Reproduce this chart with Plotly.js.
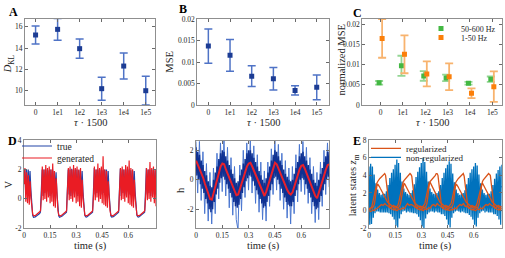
<!DOCTYPE html>
<html>
<head>
<meta charset="utf-8">
<script src="https://cdn.plot.ly/plotly-3.0.1.min.js"></script>
<style>html,body{margin:0;padding:0;background:#fff;}#chart{width:505px;height:258px;}</style>
</head>
<body>
<div id="chart"></div>
<script>
// ---------------- DATA ----------------
const tauLabels = ['0', '1e1', '1e2', '1e3', '1e4', '1e5'];

// Panel A: D_KL
const dklMean = [15.22, 15.75, 13.94, 10.19, 12.31, 10.0];
const dklErr  = [0.84, 1.02, 0.9, 1.08, 1.22, 1.35];

// Panel B: MSE
const mseMean = [0.0137, 0.01155, 0.0067, 0.0061, 0.0034, 0.0041];
const mseErr  = [0.004, 0.0037, 0.0024, 0.0026, 0.0011, 0.0029];

// Panel C: normalized MSE
const hiBandMean = [0.0055, 0.0097, 0.0072, 0.0067, 0.0054, 0.0064];   // 50-600 Hz
const hiBandErr  = [0.00045, 0.0025, 0.0012, 0.0008, 0.00033, 0.00066];
const loBandMean = [0.0165, 0.01256, 0.0077, 0.007, 0.0029, 0.00455];  // 1-50 Hz
const loBandErr  = [0.0048, 0.0047, 0.0031, 0.0033, 0.0012, 0.0038];

// Panel D: voltage, sampled every 0.005 s from t = 0
const vTrue = [
  1.2, 2.0, 0.4, 2.0, 0.3, 2.0, 0.5, 1.9, 0.6, -0.6, -1.1, -1.25, -1.25, -1.22, -1.18, -1.14, -1.1, -1.05, -1.0, -0.9,
  0.5, 2.0, 0.2, 2.0, 0.4, 2.0, 0.3, 2.0, 0.5, 1.95, 0.2, 2.0, 0.4, 2.0, 0.1, 1.9, 0.3, 1.8, 0.4, -0.7, -1.15, -1.25, -1.25, -1.2, -1.17, -1.12, -1.08, -1.03, -0.98, -0.9,
  0.6, 2.0, 0.3, 2.0, 0.2, 2.05, 0.4, 2.0, 0.3, 2.0, 0.5, 2.0, 0.2, 1.95, 0.4, 2.0, 0.2, 1.9, 0.5, -0.6, -1.1, -1.22, -1.24, -1.2, -1.16, -1.12, -1.08, -1.02, -0.97, -0.9,
  0.5, 2.1, 0.3, 2.0, 0.4, 2.0, 0.2, 2.0, 0.5, 2.0, 0.3, 1.95, 0.4, 2.0, 0.2, 2.0, 0.3, 1.9, 0.4, -0.7, -1.15, -1.24, -1.25, -1.21, -1.17, -1.12, -1.07, -1.02, -0.97, -0.9,
  0.6, 2.05, 0.2, 2.0, 0.4, 2.0, 0.3, 2.0, 0.2, 2.0, 0.5, 2.0, 0.3, 1.95, 0.4, 2.0, 0.2, 1.9, 0.5, -0.6, -1.1, -1.22, -1.24, -1.2, -1.16, -1.12, -1.07, -1.02, -0.97, -0.9,
  0.5, 2.1, 0.3, 2.0, 0.4, 2.0, 0.2, 2.0, 0.5, 2.0, 0.3, 1.95, 0.4
];
const vGen = [
  1.0, 2.1, -0.2, 1.8, -0.3, 1.6, -0.4, 1.2, 0.0, -0.8, -1.05, -1.15, -1.15, -1.12, -1.08, -1.04, -1.0, -0.95, -0.88, -0.8,
  0.2, 2.2, -0.1, 2.0, 0.0, 2.3, -0.2, 2.1, 0.1, 2.2, -0.3, 2.0, -0.2, 2.4, -0.5, 1.9, -0.6, 1.4, 0.0, -0.8, -1.1, -1.15, -1.16, -1.12, -1.08, -1.04, -1.0, -0.95, -0.88, -0.8,
  0.3, 2.1, -0.1, 2.2, 0.0, 2.0, -0.2, 2.3, 0.1, 2.1, -0.3, 2.2, -0.2, 2.0, -0.5, 2.1, -0.6, 1.3, 0.0, -0.8, -1.1, -1.15, -1.16, -1.12, -1.08, -1.04, -1.0, -0.95, -0.88, -0.8,
  0.2, 2.2, -0.1, 2.0, 0.1, 2.4, -0.2, 2.1, 0.0, 2.2, -0.3, 2.9, -0.4, 2.0, -0.5, 1.9, -0.6, 1.2, 0.0, -0.8, -1.1, -1.15, -1.16, -1.12, -1.08, -1.04, -1.0, -0.95, -0.88, -0.8,
  0.3, 2.1, -0.1, 2.2, 0.0, 2.0, -0.2, 2.3, 0.1, 2.2, -0.3, 2.6, -0.4, 2.1, -0.5, 2.0, -0.6, 1.3, 0.0, -0.8, -1.1, -1.15, -1.16, -1.12, -1.08, -1.04, -1.0, -0.95, -0.88, -0.8,
  0.2, 2.1, -0.1, 2.0, 0.0, 2.5, -0.2, 2.1, 0.1, 2.2, -0.3, 2.0, -0.5
];

// Middle bottom panel: h
// true signal, dense core (every 0.005 s)
const hTrue = [
  2.2, 0.3, 1.9, 0.0, 1.7, -0.3, 1.3, -0.6, 1.0, -0.9, 0.6, -1.3, 0.3, -1.6, -0.1, -2.0, -0.4, -2.2, -0.5, -2.0,
  0.0, -1.5, 0.5, -1.0, 0.9, -0.6, 1.4, -0.2, 1.8, 0.1, 2.0, 0.2, 1.9, 0.0, 1.6, -0.3, 1.3, -0.6, 1.0, -0.9,
  0.7, -1.2, 0.4, -1.5, 0.1, -1.8, -0.2, -1.9, -0.1, -1.7, 0.3, -1.3, 0.7, -0.9, 1.1, -0.5, 1.4, -0.1, 1.8, 0.1,
  2.0, 0.3, 2.0, 0.2, 1.8, -0.1, 1.5, -0.4, 1.2, -0.7, 0.9, -1.0, 0.6, -1.3, 0.3, -1.6, 0.0, -1.9, -0.2, -1.8,
  0.1, -1.5, 0.5, -1.1, 0.9, -0.7, 1.3, -0.3, 1.7, 0.1, 2.0, 0.2, 1.9, 0.0, 1.6, -0.3, 1.3, -0.6, 1.0, -0.9,
  0.7, -1.2, 0.4, -1.5, 0.2, -1.7, 0.0, -1.8, -0.1, -1.8, 0.0, -1.5, 0.4, -1.1, 0.8, -0.7, 1.2, -0.3, 1.6, 0.0,
  1.8, 0.1, 1.9, 0.0, 1.6, -0.3, 1.3, -0.6, 1.0, -0.9, 0.7, -1.2, 0.4, -1.5, 0.0, -1.8, -0.2, -2.0, -0.4, -1.9,
  0.0, -1.5, 0.4, -1.1, 0.8, -0.7, 1.2, -0.3, 1.6, 0.0, 1.9, 0.2, 1.9
];
// true signal, outer spikes (every 0.01 s)
const hSpikes = [
  2.6, -0.9, 2.6, -1.4, 1.9, -2.3, 1.1, -2.8, 0.5, -3.0,
  0.8, -2.3, 1.8, -1.3, 2.5, -0.8, 2.7, -1.1, 2.2, -1.9,
  1.5, -2.4, 0.9, -2.7, -3.4, 1.0, -2.1, 2.0, -1.2, 2.5,
  -0.7, 2.7, -0.9, 2.3, -1.6, 1.7, -2.2, 1.2, -2.7, 0.6,
  -2.8, 1.2, -1.8, 2.1, -1.0, 2.7, -0.7, 2.4, -1.4, 1.8,
  -2.0, 1.3, -2.6, 0.8, -3.0, 0.9, -2.3, 1.7, -1.5, 2.4,
  -0.8, 2.6, -1.0, 2.2, -1.6, 1.5, -2.3, 0.9, -2.9, 0.5,
  -2.7, 1.2, -1.8, 2.0, -1.0, 2.5, -0.5
];
// generated (every 0.01 s)
const hGen = [
  1.3, 1.0, 0.8, 0.4, 0.15, -0.25, -0.55, -0.95, -1.3, -1.35,
  -0.9, -0.4, 0.05, 0.5, 0.9, 1.1, 1.05, 0.7, 0.4, 0.1,
  -0.2, -0.5, -0.8, -1.05, -1.0, -0.6, -0.2, 0.2, 0.55, 0.9,
  1.1, 1.15, 0.9, 0.6, 0.3, 0.0, -0.3, -0.6, -0.9, -1.1,
  -0.8, -0.4, 0.0, 0.4, 0.8, 1.15, 1.05, 0.75, 0.45, 0.15,
  -0.15, -0.45, -0.7, -0.9, -1.0, -0.85, -0.45, -0.05, 0.35, 0.7,
  0.95, 1.0, 0.75, 0.45, 0.15, -0.2, -0.5, -0.85, -1.1, -1.25,
  -0.9, -0.5, -0.1, 0.3, 0.7, 1.0, 1.05
];

// Panel E: latent states
// regularized (every 0.005 s)
const zReg1 = [
  0.0, 0.1, 0.2, 0.4, 0.8, 1.3, 1.9, 2.4, 2.8, 3.1, 3.3, 3.5, 3.6, 3.7, 3.8, 3.9, 4.0, 4.2, 4.2, 4.0, 3.2, 2.0, 1.1, 0.6, 0.4, 0.3, 0.4, 0.5, 0.6, 0.5,
  0.5, 0.4, 0.5, 0.6, 0.9, 1.4, 2.0, 2.5, 2.9, 3.2, 3.4, 3.5, 3.6, 3.7, 3.8, 3.9, 4.0, 4.2, 4.1, 3.9, 3.0, 1.9, 1.0, 0.6, 0.4, 0.3, 0.4, 0.5, 0.5, 0.5,
  0.4, 0.4, 0.5, 0.6, 0.8, 1.3, 1.9, 2.5, 2.9, 3.2, 3.3, 3.4, 3.5, 3.6, 3.7, 3.8, 4.0, 4.2, 4.2, 4.0, 3.1, 2.0, 1.1, 0.6, 0.4, 0.3, 0.4, 0.5, 0.6, 0.5,
  0.5, 0.4, 0.5, 0.6, 0.8, 1.2, 1.8, 2.4, 2.8, 3.1, 3.3, 3.5, 3.6, 3.7, 3.8, 3.9, 4.1, 4.2, 4.2, 3.9, 3.0, 1.9, 1.0, 0.6, 0.4, 0.3, 0.4, 0.5, 0.6, 0.5,
  0.5, 0.4, 0.5, 0.6, 0.9, 1.3, 1.9, 2.4, 2.8, 3.1, 3.3, 3.5, 3.6, 3.7, 3.8, 3.9, 4.1, 4.2, 4.1, 4.0, 3.1, 2.0, 1.1, 0.6, 0.4, 0.3, 0.4, 0.5, 0.6, 0.5,
  0.5, 0.4, 0.5
];
const zReg2 = [
  0.3, 0.2, 0.3, 0.4, 0.3, 0.5, 0.7, 1.3, 2.2, 2.8, 3.0, 2.9, 2.7, 2.5, 2.3, 2.1, 1.9, 1.7, 1.5, 1.3, 1.1, 1.0, 0.9, 0.8, 0.7, 0.6, 0.5, 0.4, 0.4, 0.3,
  0.3, 0.3, 0.4, 0.3, 0.4, 0.5, 0.8, 1.4, 2.3, 2.9, 3.1, 3.0, 2.8, 2.6, 2.4, 2.2, 2.0, 1.8, 1.6, 1.4, 1.2, 1.0, 0.9, 0.8, 0.7, 0.6, 0.5, 0.4, 0.4, 0.3,
  0.3, 0.2, 0.3, 0.4, 0.3, 0.5, 0.7, 1.3, 2.3, 3.0, 3.2, 3.0, 2.8, 2.6, 2.4, 2.2, 2.0, 1.8, 1.5, 1.3, 1.1, 1.0, 0.9, 0.8, 0.7, 0.6, 0.5, 0.4, 0.4, 0.3,
  0.3, 0.2, 0.3, 0.4, 0.3, 0.5, 0.7, 1.2, 2.1, 2.8, 3.0, 2.9, 2.7, 2.5, 2.3, 2.1, 1.9, 1.7, 1.5, 1.3, 1.1, 1.0, 0.9, 0.8, 0.7, 0.6, 0.5, 0.4, 0.4, 0.3,
  0.3, 0.3, 0.3, 0.4, 0.3, 0.5, 0.8, 1.4, 2.2, 2.9, 3.1, 2.9, 2.7, 2.5, 2.3, 2.1, 1.9, 1.7, 1.5, 1.3, 1.1, 1.0, 0.9, 0.8, 0.7, 0.6, 0.5, 0.4, 0.4, 0.3,
  0.3, 0.2, 0.3
];
// regularized, near baseline (every 0.01 s)
const zReg3 = [
  0.0, -0.1, 0.1, 0.0, 0.2, 0.3, 0.5, 0.7, 0.6, 0.8, 0.6, 0.5, 0.3, 0.2, 0.1,
  0.1, 0.0, 0.2, 0.1, 0.3, 0.2, 0.5, 0.8, 0.6, 0.7, 0.6, 0.4, 0.3, 0.2, 0.1,
  0.1, 0.0, 0.2, 0.1, 0.3, 0.3, 0.6, 0.7, 0.5, 0.8, 0.6, 0.5, 0.3, 0.2, 0.1,
  0.1, 0.0, 0.1, 0.1, 0.3, 0.2, 0.5, 0.7, 0.6, 0.8, 0.5, 0.5, 0.3, 0.2, 0.1,
  0.1, 0.0, 0.2, 0.1, 0.3, 0.2, 0.5, 0.7, 0.6, 0.8, 0.6, 0.5, 0.3, 0.2, 0.1,
  0.1, 0.0
];
// non-regularized (every 0.005 s)
const zNon1 = [
  5.0, -1.6, 5.3, -1.5, 5.0, -0.8, 4.1, -0.3, 3.1, -0.1, 2.4, -0.1, 2.0, -0.2, 1.8, -0.2, 1.9, -0.2, 1.9, -0.2, 2.2, -0.2, 2.9, -0.3, 3.7, -0.4, 4.3, -0.7, 4.7, -1.0,
  5.2, -1.7, 5.8, -1.9, 5.4, -0.9, 4.3, -0.4, 3.3, -0.1, 2.5, 0.0, 2.1, -0.2, 1.9, -0.1, 1.8, -0.2, 2.0, -0.2, 2.3, -0.3, 3.0, -0.3, 3.8, -0.4, 4.4, -0.7, 4.9, -1.1,
  5.4, -1.8, 6.0, -2.0, 5.5, -0.9, 4.4, -0.4, 3.3, -0.2, 2.5, -0.1, 2.1, -0.1, 1.9, -0.2, 1.9, -0.1, 2.0, -0.2, 2.2, -0.2, 2.9, -0.4, 3.7, -0.4, 4.3, -0.6, 4.8, -1.0,
  5.2, -1.6, 5.6, -1.9, 5.3, -0.8, 4.2, -0.3, 3.2, -0.1, 2.4, 0.0, 2.0, -0.1, 1.8, -0.2, 1.9, -0.1, 2.0, -0.2, 2.3, -0.3, 3.0, -0.3, 3.7, -0.5, 4.3, -0.7, 4.7, -1.0,
  5.0, -1.6, 5.4, -1.8, 5.1, -0.8, 4.1, -0.3, 3.1, -0.1, 2.4, 0.0, 2.0, -0.2, 1.8, -0.1, 1.9, -0.2, 1.9, -0.2, 2.2, -0.2, 2.9, -0.4, 3.6, -0.4, 4.2, -0.6, 4.6, -1.0,
  5.0, -1.6, 5.2
];
// non-regularized (every 0.01 s)
const zNon2 = [
  2.2, 2.8, 2.7, 2.4, 2.1, 1.8, 1.5, 1.3, 1.1, 0.9, 0.8, 0.9, 1.2, 1.6, 2.1,
  2.6, 3.0, 2.8, 2.5, 2.2, 1.9, 1.6, 1.3, 1.1, 0.9, 0.8, 0.9, 1.2, 1.6, 2.1,
  2.6, 3.1, 2.9, 2.6, 2.3, 2.0, 1.7, 1.4, 1.1, 0.9, 0.8, 0.9, 1.2, 1.7, 2.2,
  2.6, 3.0, 2.8, 2.5, 2.2, 1.9, 1.6, 1.3, 1.1, 0.9, 0.8, 0.9, 1.2, 1.6, 2.1,
  2.5, 2.9, 2.7, 2.4, 2.1, 1.8, 1.5, 1.3, 1.1, 0.9, 0.8, 0.9, 1.2, 1.6, 2.0,
  2.4, 2.8
];

// tick labels
const dklTicks = [10, 12, 14, 16];
const mseTicks = [0, 0.005, 0.01, 0.015, 0.02];
const mseTickText = ['0', '0.005', '0.01', '0.015', '0.02'];
const timeTicks = [0, 0.15, 0.3, 0.45, 0.6];
const timeTickText = ['0', '0.15', '0.3', '0.45', '0.6'];
const vTicks = [-2, 0, 2, 4];
const vTickText = ['-2', '0', '2', '4'];
const hTicks = [-2, 0, 2];
const hTickText = ['-2', '0', '2'];
const zTicks = [-2, 0, 2, 4, 6, 8];
const zTickText = ['-2', '0', '2', '4', '6', '8'];

// ---------------- STYLE ----------------
const FONT = 'Liberation Serif, serif';
const W = 505, H = 258;
const px = v => v / W;
const py = v => 1 - v / H;
const TXT = '#262626';

function axisBase(domain, range, extra) {
  return Object.assign({
    domain: domain, range: range, showline: true, linecolor: '#8f8f8f', linewidth: 1,
    mirror: 'ticks', ticks: 'inside', ticklen: 3, tickwidth: 1, tickcolor: '#6a6a6a',
    showgrid: false, zeroline: false, fixedrange: true,
    tickfont: {family: FONT, size: 7.5, color: TXT}
  }, extra);
}

const sampleStep = 0.005;
const sampleStepCoarse = 0.01;

const errBlue = '#4f73c6', markBlue = '#1c3c94';
const green = '#43b843', greenErr = '#94d694';
const orange = '#fb7f0a', orangeErr = '#f8b36e';

const data = [
  // A
  {type: 'scatter', mode: 'markers', x: tauLabels, y: dklMean, xaxis: 'x', yaxis: 'y', showlegend: false,
   error_y: {type: 'data', array: dklErr, visible: true, color: errBlue, thickness: 1.5, width: 4},
   marker: {symbol: 'square', size: 5, color: markBlue}},
  // B
  {type: 'scatter', mode: 'markers', x: tauLabels, y: mseMean, xaxis: 'x2', yaxis: 'y2', showlegend: false,
   error_y: {type: 'data', array: mseErr, visible: true, color: errBlue, thickness: 1.5, width: 4},
   marker: {symbol: 'square', size: 5, color: markBlue}},
  // C
  {type: 'scatter', mode: 'markers', name: '50-600 Hz', x: tauLabels, y: hiBandMean, xaxis: 'x3', yaxis: 'y3',
   offsetgroup: 'hi', legend: 'legend3',
   error_y: {type: 'data', array: hiBandErr, visible: true, color: greenErr, thickness: 1.8, width: 4},
   marker: {symbol: 'square', size: 5, color: green}},
  {type: 'scatter', mode: 'markers', name: '1-50 Hz', x: tauLabels, y: loBandMean, xaxis: 'x3', yaxis: 'y3',
   offsetgroup: 'lo', legend: 'legend4',
   error_y: {type: 'data', array: loBandErr, visible: true, color: orangeErr, thickness: 1.8, width: 4},
   marker: {symbol: 'square', size: 5, color: orange}},
  // D
  {type: 'scatter', mode: 'lines', name: 'true', y: vTrue, x0: 0, dx: sampleStep, xaxis: 'x4', yaxis: 'y4',
   legend: 'legend', line: {color: '#2244a8', width: 1.2}},
  {type: 'scatter', mode: 'lines', name: 'generated', y: vGen, x0: 0, dx: sampleStep, xaxis: 'x4', yaxis: 'y4',
   legend: 'legend2', line: {color: '#ea1c24', width: 1.2}},
  // middle: h
  {type: 'scatter', mode: 'lines', y: hSpikes, x0: 0, dx: sampleStepCoarse, xaxis: 'x5', yaxis: 'y5', showlegend: false,
   line: {color: '#4a76cf', width: 1}},
  {type: 'scatter', mode: 'lines', y: hTrue, x0: 0, dx: sampleStep, xaxis: 'x5', yaxis: 'y5', showlegend: false,
   line: {color: '#0f3192', width: 1.4}},
  {type: 'scatter', mode: 'lines', y: hGen, x0: 0, dx: sampleStepCoarse, xaxis: 'x5', yaxis: 'y5', showlegend: false,
   line: {color: '#e8202a', width: 2}},
  // E
  {type: 'scatter', mode: 'lines', name: 'non-regularized', y: zNon1, x0: 0, dx: sampleStep, xaxis: 'x6', yaxis: 'y6',
   legend: 'legend6', legendrank: 2, line: {color: '#0072BD', width: 1.3}},
  {type: 'scatter', mode: 'lines', y: zNon2, x0: 0, dx: sampleStepCoarse, xaxis: 'x6', yaxis: 'y6', showlegend: false,
   line: {color: '#0072BD', width: 1}},
  {type: 'scatter', mode: 'lines', name: 'regularized', y: zReg1, x0: 0, dx: sampleStep, xaxis: 'x6', yaxis: 'y6',
   legend: 'legend5', legendrank: 1, line: {color: '#D95319', width: 1.3}},
  {type: 'scatter', mode: 'lines', y: zReg2, x0: 0, dx: sampleStep, xaxis: 'x6', yaxis: 'y6', showlegend: false,
   line: {color: '#D95319', width: 1.3}},
  {type: 'scatter', mode: 'lines', y: zReg3, x0: 0, dx: sampleStepCoarse, xaxis: 'x6', yaxis: 'y6', showlegend: false,
   line: {color: '#D95319', width: 1.3}}
];

function legendAt(x, y, size) {
  return {x: px(x), y: py(y), xanchor: 'left', yanchor: 'middle', bgcolor: 'rgba(0,0,0,0)',
          borderwidth: 0, font: {family: FONT, size: size, color: TXT}, itemwidth: 30};
}

function ann(text, x, y, opts) {
  return Object.assign({text: text, x: px(x), y: py(y), xref: 'paper', yref: 'paper', showarrow: false,
    xanchor: 'center', yanchor: 'middle', font: {family: FONT, size: 10.5, color: TXT}}, opts || {});
}
const letterFont = {family: FONT, size: 12, color: '#000', weight: 'bold'};

const layout = {
  width: W, height: H, margin: {l: 0, r: 0, t: 0, b: 0}, paper_bgcolor: '#fff', plot_bgcolor: '#fff',
  font: {family: FONT, color: TXT},
  scattermode: 'group', scattergap: 0.73,
  xaxis:  axisBase([px(25), px(155)], [-0.48, 5.42], {type: 'category', anchor: 'y'}),
  yaxis:  axisBase([py(105), py(19)], [8.66, 16.72], {anchor: 'x', tickvals: dklTicks}),
  xaxis2: axisBase([px(197.3), px(329.3)], [-0.51, 5.58], {type: 'category', anchor: 'y2'}),
  yaxis2: axisBase([py(105), py(19)], [0, 0.02], {anchor: 'x2', tickvals: mseTicks, ticktext: mseTickText}),
  xaxis3: axisBase([px(362.3), px(501.7)], [-0.82, 5.42], {type: 'category', anchor: 'y3'}),
  yaxis3: axisBase([py(105), py(19)], [0, 0.0213], {anchor: 'x3', tickvals: mseTicks, ticktext: mseTickText}),
  xaxis4: axisBase([px(24), px(156)], [0, 0.76], {anchor: 'y4', tickvals: timeTicks, ticktext: timeTickText}),
  yaxis4: axisBase([py(228.3), py(140)], [-2, 4], {anchor: 'x4', tickvals: vTicks, ticktext: vTickText}),
  xaxis5: axisBase([px(196), px(329.3)], [0, 0.76], {anchor: 'y5', tickvals: timeTicks, ticktext: timeTickText}),
  yaxis5: axisBase([py(228.3), py(141)], [-3.29, 2.63], {anchor: 'x5', tickvals: hTicks, ticktext: hTickText}),
  xaxis6: axisBase([px(369), px(501.7)], [0, 0.76], {anchor: 'y6', tickvals: timeTicks, ticktext: timeTickText}),
  yaxis6: axisBase([py(228.3), py(140)], [-2, 8], {anchor: 'x6', tickvals: zTicks, ticktext: zTickText}),
  legend:  legendAt(17, 146, 9.5),
  legend2: legendAt(17, 158, 9.5),
  legend3: legendAt(421, 28.5, 8),
  legend4: legendAt(421, 37.5, 8),
  legend5: legendAt(366, 148.3, 9),
  legend6: legendAt(366, 157.3, 9),
  annotations: [
    ann('A', 13.5, 12, {font: letterFont}),
    ann('B', 183, 9, {font: letterFont}),
    ann('C', 357, 13, {font: letterFont}),
    ann('D', 12.5, 140.5, {font: letterFont}),
    ann('E', 356.7, 140.5, {font: letterFont}),
    ann('<i>τ</i> · 1500', 91, 123),
    ann('<i>τ</i> · 1500', 263.5, 123),
    ann('<i>τ</i> · 1500', 433, 123),
    ann('time (s)', 90, 246),
    ann('time (s)', 263, 246),
    ann('time (s)', 435.5, 246),
    ann('<i>D</i><sub>KL</sub>', 8.3, 64, {textangle: -90}),
    ann('MSE', 170, 61.7, {textangle: -90}),
    ann('normalized MSE', 341.5, 60, {textangle: -90}),
    ann('V', 7.5, 185, {textangle: -90}),
    ann('h', 180.5, 190.5, {textangle: -90}),
    ann('latent states <i>z</i><sub>m</sub>', 353.3, 185, {textangle: -90})
  ]
};

Plotly.newPlot('chart', data, layout, {staticPlot: true, displayModeBar: false});
</script>
</body>
</html>
